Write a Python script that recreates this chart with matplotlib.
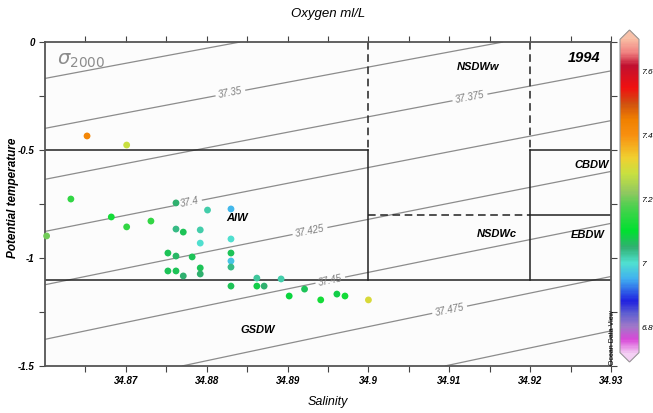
import numpy as np
import matplotlib
matplotlib.use("Agg")
import matplotlib.pyplot as plt
from matplotlib.colors import LinearSegmentedColormap

# salinity / potential temperature / oxygen of the 1994 samples
salinity = [34.8652, 34.8701, 34.8632, 34.8682, 34.8701, 34.8602, 34.8731,
            34.8762, 34.8801, 34.8830, 34.8762, 34.8771, 34.8792, 34.8792,
            34.8830, 34.8752, 34.8762, 34.8782, 34.8830, 34.8830, 34.8830,
            34.8752, 34.8762, 34.8792, 34.8792, 34.8771, 34.8830, 34.8862,
            34.8862, 34.8871, 34.8892, 34.8902, 34.8921, 34.8941, 34.8961,
            34.8971, 34.9000]
theta = [-0.435, -0.477, -0.727, -0.810, -0.856, -0.898, -0.829,
         -0.745, -0.778, -0.773, -0.866, -0.880, -0.870, -0.931,
         -0.912, -0.977, -0.991, -0.995, -0.977, -1.014, -1.042,
         -1.060, -1.060, -1.046, -1.074, -1.083, -1.130, -1.093,
         -1.130, -1.130, -1.097, -1.176, -1.144, -1.194, -1.167,
         -1.176, -1.194]
oxygen = [7.43, 7.28, 7.15, 7.12, 7.15, 7.20, 7.15,
          7.05, 7.02, 6.96, 7.04, 7.07, 7.02, 7.00,
          7.00, 7.07, 7.06, 7.07, 7.07, 6.97, 7.04,
          7.07, 7.07, 7.07, 7.05, 7.05, 7.07, 7.03,
          7.08, 7.05, 7.02, 7.09, 7.07, 7.12, 7.08,
          7.12, 7.30]

x_ticks = [34.87, 34.88, 34.89, 34.90, 34.91, 34.92, 34.93]
x_labels = ['34.87', '34.88', '34.89', '34.9', '34.91', '34.92', '34.93']
y_ticks = [0, -0.5, -1, -1.5]
y_labels = ['0', '-0.5', '-1', '-1.5']
cbar_ticks = [6.8, 7.0, 7.2, 7.4, 7.6]
cbar_labels = ['6.8', '7', '7.2', '7.4', '7.6']

sigma_levels = [37.3, 37.325, 37.35, 37.375, 37.4, 37.425, 37.45, 37.475, 37.5, 37.525, 37.55]
# label positions for 37.35, 37.375, 37.4, 37.425, 37.45, 37.475
label_pos = [(34.8829, -0.231), (34.9125, -0.245), (34.8779, -0.745),
             (34.8928, -0.880), (34.8952, -1.088), (34.9101, -1.25)]

water_masses = ['NSDWw', 'CBDW', 'NSDWc', 'EBDW', 'AIW', 'GSDW']
wm_pos = [(34.9135, -0.116), (34.9276, -0.569), (34.9159, -0.889),
          (34.9271, -0.894), (34.8837, -0.815), (34.8863, -1.333)]

# ODV-like rainbow
vmin, vmax = 6.72, 7.70
stops = [(6.72, '#f0c0f0'), (6.76, '#d848d8'), (6.80, '#a078c8'), (6.84, '#6060d0'),
         (6.88, '#2020e0'), (6.95, '#40b0f0'), (7.00, '#50e0d0'), (7.05, '#30b070'),
         (7.10, '#00e030'), (7.18, '#50d050'), (7.22, '#90c860'), (7.28, '#c8e040'),
         (7.33, '#f0d030'), (7.40, '#f89010'), (7.45, '#f08000'), (7.50, '#d05010'),
         (7.55, '#f01010'), (7.62, '#c01030'), (7.66, '#f08080'), (7.70, '#f8b8a0')]
cmap = LinearSegmentedColormap.from_list(
    'odv', [((v - vmin) / (vmax - vmin), c) for v, c in stops])
cmap.set_under('#f4d0f4')
cmap.set_over('#f8c0a8')

plt.rcParams['font.family'] = ['Liberation Sans', 'DejaVu Sans']

fig = plt.figure(figsize=(6.53, 4.13), dpi=100)
ax = fig.add_axes([45 / 653, 1 - 366 / 413, 566 / 653, 324 / 413])
ax.set_facecolor('#fcfcfc')

# isopycnals (simple sigma-2000 approximation)
S, T = np.meshgrid(np.linspace(34.86, 34.93, 300), np.linspace(-1.5, 0, 300))
sig = 37.4 + 0.769 * (S - 34.86) - (0.1109 * (T + 0.877) + 0.0048 * (T ** 2 - 0.769))
cs = ax.contour(S, T, sig, levels=sigma_levels, colors='#8c8c8c', linewidths=0.9)
cl = ax.clabel(cs, inline=True, fmt=lambda v: f'{v:g}',
               fontsize=7, manual=label_pos, inline_spacing=3)
for t in cl:
    t.set_color('#808080')
    t.set_style('italic')

# water mass boundaries
k = dict(color='#222222', lw=1.1)
ax.plot([34.86, 34.90], [-0.5, -0.5], **k)
ax.plot([34.92, 34.93], [-0.5, -0.5], **k)
ax.plot([34.86, 34.93], [-1.1, -1.1], **k)
ax.plot([34.92, 34.93], [-0.8, -0.8], **k)
ax.plot([34.90, 34.92], [-0.8, -0.8], ls=(0, (5, 3)), **k)
ax.plot([34.90, 34.90], [0, -0.5], ls=(0, (5, 3)), **k)
ax.plot([34.92, 34.92], [0, -0.5], ls=(0, (5, 3)), **k)
ax.plot([34.90, 34.90], [-0.5, -1.1], **k)
ax.plot([34.92, 34.92], [-0.5, -1.1], **k)

sc = ax.scatter(salinity, theta, c=oxygen, cmap=cmap, vmin=vmin, vmax=vmax,
                s=24, edgecolors='none', zorder=5, clip_on=False)

for name, (sx, ty) in zip(water_masses, wm_pos):
    ax.text(sx, ty, name, ha='center', va='center', fontsize=8,
            style='italic', fontweight='bold')
ax.text(34.9267, -0.074, '1994', ha='center', va='center', fontsize=10.5,
        style='italic', fontweight='bold')
ax.text(34.8615, -0.085, r'$\sigma_{\mathrm{2000}}$', ha='left', va='center',
        fontsize=14, color='#8c8c8c')

ax.set_xlim(34.86, 34.93)
ax.set_ylim(-1.5, 0)
ax.set_xticks(x_ticks)
ax.set_xticklabels(x_labels)
ax.set_yticks(y_ticks)
ax.set_yticklabels(y_labels)
ax.set_xticks(np.arange(34.865, 34.93, 0.01), minor=True)
ax.set_yticks([-0.25, -0.75, -1.25], minor=True)
ax.tick_params(which='both', direction='out', length=4, width=0.8, color='#444444',
               top=True, right=True, labelsize=7)
for lab in ax.get_xticklabels() + ax.get_yticklabels():
    lab.set_style('italic')
    lab.set_fontweight('bold')
for sp in ax.spines.values():
    sp.set_color('#555555')
    sp.set_linewidth(1.3)

ax.set_xlabel('Salinity', fontsize=9, style='italic')
ax.xaxis.set_label_coords(0.5, -0.094)
ax.set_ylabel('Potential temperature', fontsize=8.5, style='italic', fontweight='bold')
ax.yaxis.set_label_coords(-0.046, 0.52)
ax.set_title('Oxygen ml/L', fontsize=9.5, style='italic', y=1.077, pad=0)

cax = fig.add_axes([620 / 653, 1 - 362 / 413, 19 / 653, 332 / 413])
cb = fig.colorbar(sc, cax=cax, extend='both', extendfrac=0.03, ticks=cbar_ticks)
cb.ax.set_yticklabels(cbar_labels)
cb.ax.tick_params(length=0, labelsize=6, pad=1.5)
for lab in cb.ax.get_yticklabels():
    lab.set_style('italic')
cb.outline.set_edgecolor('#999999')
cb.outline.set_linewidth(0.8)

fig.text(613 / 653, 1 - 338 / 413, 'Ocean Data View', rotation=90, fontsize=5,
         ha='center', va='center')

fig.savefig('out.png', dpi=100)
